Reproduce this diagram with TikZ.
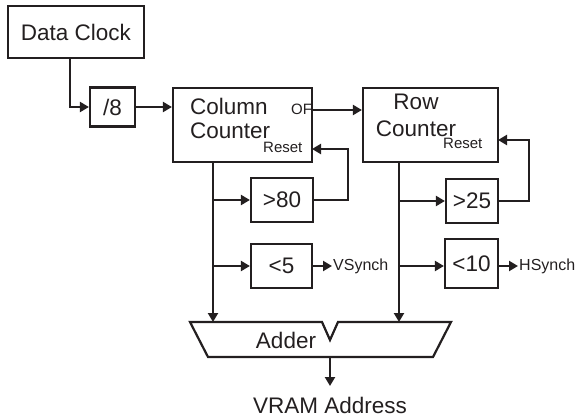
\documentclass[tikz,border=0pt]{standalone}
\usepackage{fontspec}
\setmainfont{Liberation Sans}
\usetikzlibrary{arrows.meta}
\definecolor{ink}{HTML}{231F20}

\tikzset{
  blk/.style={draw=ink,line width=2.2pt,inner sep=0pt},
  big/.style={font=\fontsize{22.5}{25}\selectfont,text=ink,inner sep=0pt},
  small/.style={font=\fontsize{15}{17}\selectfont,text=ink,inner sep=0pt},
  sig/.style={font=\fontsize{16}{18}\selectfont,text=ink,inner sep=1pt},
  wire/.style={draw=ink,line width=2.2pt,-{Triangle[length=9pt,width=10pt]}},
}

\begin{document}
\begin{tikzpicture}[x=1pt,y=-1pt]
  \useasboundingbox (0,0) rectangle (578,417);
  % blocks
  \node[blk,big,minimum width=136pt,minimum height=52pt] (clk) at (76,32) {Data Clock};
  \node[blk,big,minimum width=45pt,minimum height=39pt] (div) at (112.5,107) {/8};
  \node[blk,minimum width=139pt,minimum height=74pt] (col) at (242.5,125) {};
  \node[blk,minimum width=135pt,minimum height=74pt] (row) at (430.5,125) {};
  \node[blk,big,minimum width=62pt,minimum height=44pt] (gt80) at (282,200) {>80};
  \node[blk,big,minimum width=52pt,minimum height=44pt] (gt25) at (472,201) {>25};
  \node[blk,big,minimum width=61pt,minimum height=44pt] (lt5) at (281.5,266) {<5};
  \node[blk,big,minimum width=53pt,minimum height=49pt] (lt10) at (471.5,263.5) {<10};
  % counter texts
  \node[big,anchor=base west] (colA) at (190,114) {Column};
  \node[big,anchor=base west] (colB) at (190,139) {Counter};
  \node[small,anchor=base west] (colof) at (291,115) {OF};
  \node[small,anchor=base west] (colrst) at (263,152) {Reset};
  \node[big,anchor=base] (rowA) at (416,110) {Row};
  \node[big,anchor=base] (rowB) at (416,136) {Counter};
  \node[small,anchor=base west] (rowrst) at (443,149) {Reset};
  % adder
  \coordinate (a1) at (190,322); \coordinate (n1) at (322,322); \coordinate (tip) at (330,340);
  \coordinate (n2) at (338,322); \coordinate (a2) at (451,322);
  \coordinate (a3) at (433,357); \coordinate (a4) at (208,357);
  \draw[draw=ink,line width=2.2pt,line join=miter] (a1) -- (n1) -- (tip) -- (n2) -- (a2) -- (a3) -- (a4) -- cycle;
  \node[big,anchor=base] (adder) at (286,348) {Adder};
  % outputs
  \node[sig,anchor=west] (vs) at (332,266) {VSynch};
  \node[sig,anchor=west] (hs) at (518,266) {HSynch};
  \node[font=\fontsize{22.5}{24}\selectfont,text=ink,inner sep=0pt,anchor=base] (vram) at (330,413) {VRAM Address};
  % wires
  \coordinate (ck) at (70,58);
  \coordinate (of) at (312,110); \coordinate (cr) at (312,149); \coordinate (rr) at (498,140);
  \coordinate (cb) at (213,162); \coordinate (rb) at (399,162);
  \coordinate (ao) at (330,357); \coordinate (vo) at (330,386);
  \draw[wire] (ck) |- (div.west);
  \draw[wire] (div) -- (col.west |- div);
  \draw[wire] (of) -- (of -| row.west);
  \draw[wire] (cb) -- (cb |- a1);
  \draw[wire] (cb |- gt80) -- (gt80.west);
  \draw[wire] (cb |- lt5) -- (lt5.west);
  \draw[wire] (gt80.east) -- ++(34,0) |- (cr);
  \draw[wire] (rb) -- (rb |- a2);
  \draw[wire] (rb |- gt25) -- (gt25.west);
  \draw[wire] (rb |- lt5) -- (lt10.west |- lt5);
  \draw[wire] (gt25.east) -- ++(30,0) |- (rr);
  \draw[wire] (lt5.east) -- (vs.west);
  \draw[wire] (lt10.east |- hs) -- (hs.west);
  \draw[wire] (ao) -- (vo);
\end{tikzpicture}
\end{document}
